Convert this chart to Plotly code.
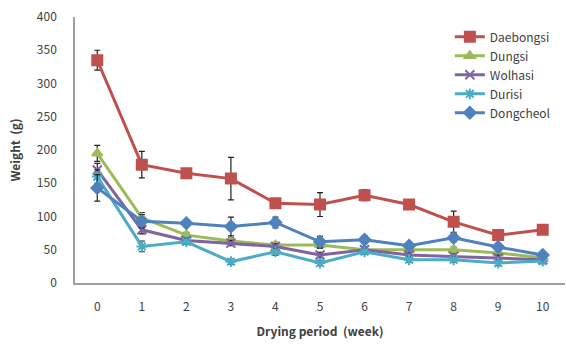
import plotly.graph_objects as go

weeks = [0, 1, 2, 3, 4, 5, 6, 7, 8, 9, 10]
tick_labels = [str(w) for w in weeks]

names = ["Daebongsi", "Dungsi", "Wolhasi", "Durisi", "Dongcheol"]
daebongsi = [335, 178, 165, 157, 120, 118, 132, 118, 92, 72, 80]
daebongsi_err = [15, 20, 5, 32, 6, 18, 8, 5, 16, 5, 5]
dungsi = [195, 98, 72, 63, 57, 57, 50, 50, 50, 45, 38]
dungsi_err = [12, 8, 4, 5, 4, 5, 4, 4, 4, 4, 4]
wolhasi = [170, 80, 64, 60, 55, 42, 50, 42, 40, 38, 35]
wolhasi_err = [10, 6, 4, 4, 4, 4, 4, 4, 4, 4, 4]
durisi = [160, 55, 62, 32, 47, 30, 47, 35, 35, 30, 33]
durisi_err = [10, 8, 4, 4, 5, 4, 4, 4, 4, 4, 4]
dongcheol = [143, 93, 90, 85, 91, 62, 65, 56, 68, 54, 42]
dongcheol_err = [20, 10, 5, 14, 8, 8, 6, 5, 6, 5, 4]

series = [daebongsi, dungsi, wolhasi, durisi, dongcheol]
errors = [daebongsi_err, dungsi_err, wolhasi_err, durisi_err, dongcheol_err]
colors = ["#C0504D", "#9BBB59", "#8064A2", "#4BACC6", "#4F81BD"]
symbols = ["square", "triangle-up", "x-thin-open", "asterisk-open", "diamond"]
msizes = [10, 9, 9, 9, 9]

fig = go.Figure()
for name, ys, err, c, s, ms in zip(names, series, errors, colors, symbols, msizes):
    fig.add_trace(go.Scatter(
        x=weeks, y=ys, name=name, mode="lines+markers",
        line=dict(color=c, width=3),
        marker=dict(symbol=s, size=ms, color=c, line=dict(color=c, width=2)),
        error_y=dict(type="data", array=err, visible=True, color="#222222",
                     thickness=1.2, width=3),
    ))

font_family = "Noto Sans CJK KR, Noto Sans, sans-serif"
fig.update_layout(
    width=566, height=355,
    margin=dict(l=75, r=1, t=17, b=72),
    plot_bgcolor="white", paper_bgcolor="white",
    font=dict(family=font_family, size=12, color="#404040"),
    showlegend=True,
    legend=dict(x=0.765, y=0.98, xanchor="left", yanchor="top",
                bgcolor="rgba(0,0,0,0)", font=dict(size=12, color="#404040"),
                tracegroupgap=0, itemwidth=30),
    xaxis=dict(
        range=[-0.5, 10.5], tickmode="array", tickvals=weeks, ticktext=tick_labels,
        showgrid=False, zeroline=False, showline=True, linecolor="#A0A0A0",
        linewidth=1.5, ticks="", ticklabelstandoff=12,
        title=dict(text="<b>Drying period  (week)</b>", standoff=14,
                   font=dict(size=12, color="#404040")),
    ),
    yaxis=dict(
        range=[0, 400], tickvals=[0, 50, 100, 150, 200, 250, 300, 350, 400],
        showgrid=False, zeroline=False, showline=True, linecolor="#A0A0A0",
        linewidth=1.5, ticks="", ticklabelstandoff=14,
        title=dict(text="<b>Weight  (g)</b>", standoff=14,
                   font=dict(size=12, color="#404040")),
    ),
)

fig.write_html("out.html")
